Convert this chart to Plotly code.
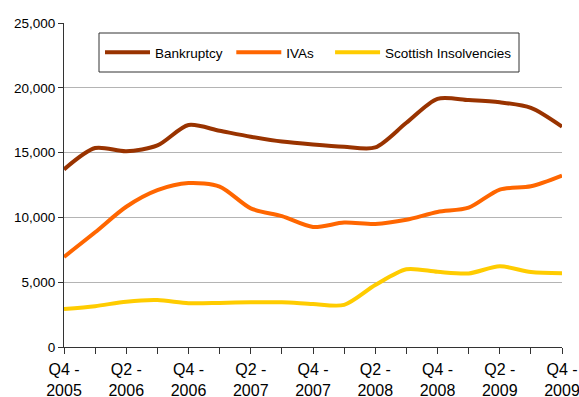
import plotly.graph_objects as go

quarters = ["Q4 - 2005", "Q1 - 2006", "Q2 - 2006", "Q3 - 2006", "Q4 - 2006",
            "Q1 - 2007", "Q2 - 2007", "Q3 - 2007", "Q4 - 2007",
            "Q1 - 2008", "Q2 - 2008", "Q3 - 2008", "Q4 - 2008",
            "Q1 - 2009", "Q2 - 2009", "Q3 - 2009", "Q4 - 2009"]

bankruptcy = [13700, 15350, 15100, 15550, 17130, 16680, 16230, 15850, 15620,
              15450, 15400, 17300, 19150, 19050, 18880, 18450, 17000]
ivas = [6950, 8850, 10820, 12100, 12650, 12380, 10700, 10100, 9260,
        9600, 9500, 9820, 10420, 10750, 12150, 12400, 13230]
scottish = [2930, 3150, 3500, 3620, 3380, 3400, 3450, 3450, 3320,
            3250, 4780, 6000, 5800, 5680, 6230, 5780, 5690]

tick_labels = ["Q4 -<br>2005", "Q2 -<br>2006", "Q4 -<br>2006", "Q2 -<br>2007",
               "Q4 -<br>2007", "Q2 -<br>2008", "Q4 -<br>2008", "Q2 -<br>2009",
               "Q4 -<br>2009"]

x = list(range(len(quarters)))

NB = "\u00a0"
fig = go.Figure()
series = [("Bankruptcy", NB, bankruptcy, "#993300"),
          ("IVAs", NB * 3, ivas, "#FF6600"),
          ("Scottish Insolvencies", "", scottish, "#FFCC00")]
for name, pad, vals, col in series:
    fig.add_trace(go.Scatter(
        x=x, y=vals, name=name + pad, mode="lines",
        line=dict(color=col, width=4, shape="spline", smoothing=0.8),
        customdata=quarters,
        hovertemplate="%{customdata}: %{y:,}<extra>" + name + "</extra>",
    ))

PL, PR, PT, PB = 64, 562, 23, 347
W, H = 579, 397
def px(xp):
    return (xp - PL) / (PR - PL)
def py(yp):
    return (PB - yp) / (PB - PT)

fig.update_layout(
    width=W, height=H,
    margin=dict(l=PL, r=W - PR, t=PT, b=H - PB),
    paper_bgcolor="white", plot_bgcolor="white",
    font=dict(family="Liberation Sans, Arial, sans-serif", size=13, color="#000"),
    showlegend=True,
    legend=dict(
        orientation="h", x=px(100), y=py(52.5), xanchor="left", yanchor="middle",
        borderwidth=0, bgcolor="rgba(0,0,0,0)",
        font=dict(size=13.5), itemwidth=45,
    ),
    shapes=[dict(type="rect", xref="paper", yref="paper",
                 x0=px(99), x1=px(519), y0=py(72), y1=py(33),
                 line=dict(color="#333", width=1), fillcolor="white", layer="above")],
)
fig.update_xaxes(
    range=[0, 16], tickmode="array", tickvals=list(range(0, 17, 2)),
    ticktext=tick_labels, ticks="outside", ticklen=6, tickcolor="#333",
    showline=True, linecolor="#333", linewidth=1, showgrid=False,
    zeroline=False, tickfont=dict(size=16), automargin=False,
    ticklabeloverflow="allow", ticklabelstandoff=2,
    minor=dict(ticks="outside", dtick=1, ticklen=6, tickcolor="#333", showgrid=False),
)
fig.update_yaxes(
    range=[0, 25000], tickmode="linear", tick0=0, dtick=5000, tickformat=",",
    ticks="outside", ticklen=5, tickcolor="#333",
    showline=True, linecolor="#333", linewidth=1,
    showgrid=True, gridcolor="#b4b4b4", gridwidth=1, zeroline=False,
    tickfont=dict(size=13.5), automargin=False,
)

fig.write_html("out.html", config={"displayModeBar": False},
               post_script="document.body.style.margin='0';document.body.style.overflow='hidden';")
